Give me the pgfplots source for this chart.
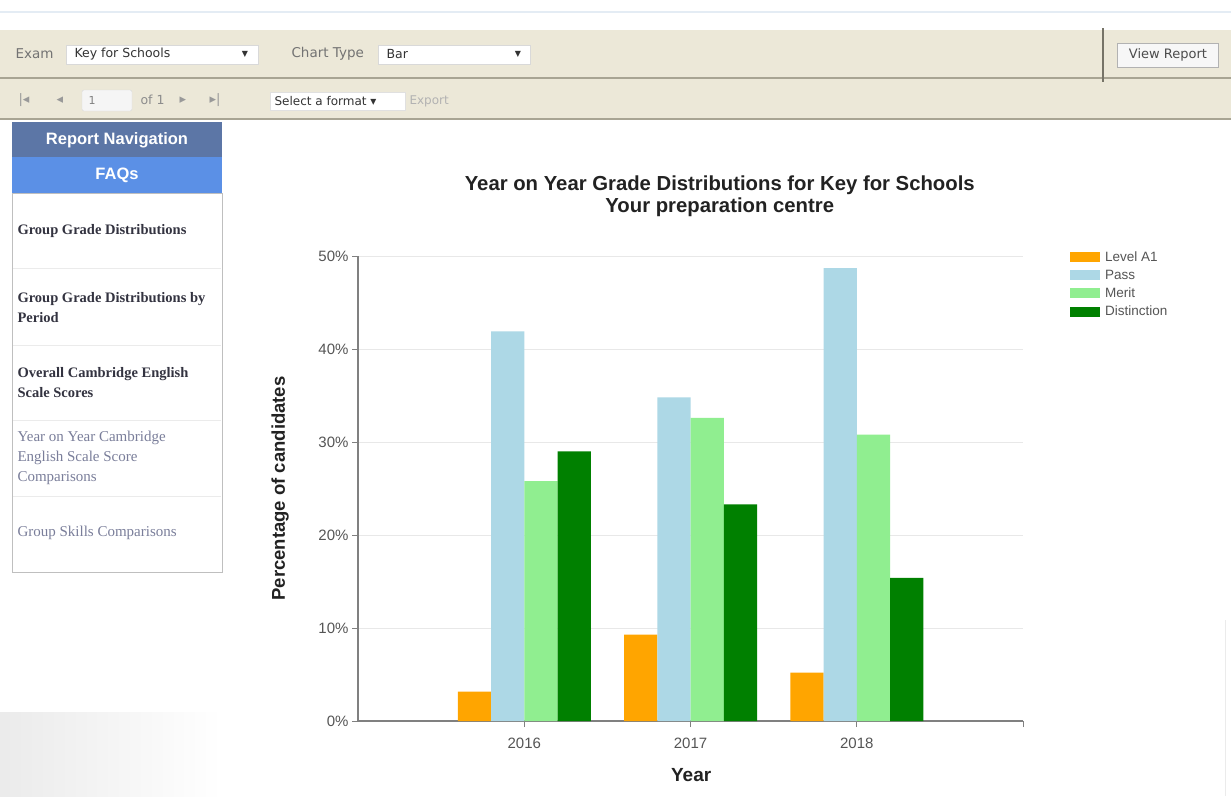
\documentclass[border=0pt]{standalone}
\usepackage{fontspec}
\setmainfont{Liberation Sans}
\newfontfamily\sideserif{Liberation Serif}
\newfontfamily\ui{DejaVu Sans}
\usepackage{pgfplots}
\pgfplotsset{compat=1.18}
\definecolor{beige}{HTML}{ECE8D8}
\definecolor{tbline}{HTML}{A8A493}
\definecolor{navdark}{HTML}{5C76A6}
\definecolor{navblue}{HTML}{5B90E6}
\definecolor{barA}{HTML}{FFA500}
\definecolor{barP}{HTML}{ADD8E6}
\definecolor{barM}{HTML}{90EE90}
\definecolor{barD}{HTML}{008000}
\definecolor{axisgray}{HTML}{808080}
\definecolor{gridgray}{HTML}{E8E8E8}
\definecolor{txtgray}{HTML}{555555}
\definecolor{titlecol}{HTML}{222222}
\definecolor{sidetxt}{HTML}{333340}
\definecolor{sidelight}{HTML}{7A7E9A}
\definecolor{topline}{HTML}{E4ECF4}
\pgfplotsset{mybar/.style={ybar, bar width=0.2, bar shift=0pt, draw=none, fill=#1,
  legend image code/.code={\fill[#1] (0pt,-5pt) rectangle (30pt,5pt); \path (33pt,0pt);}}}
\begin{document}
\begin{tikzpicture}[x=1pt,y=-1pt]
\useasboundingbox (0,0) rectangle (1231,796);
\fill[white] (0,0) rectangle (1231,796);
\shade[left color=black!8, right color=white] (0,712) rectangle (222,796);
\draw[black!8, line width=1pt] (1225,620) -- (1225,796);
% top line
\draw[topline, line width=2pt] (0,12) -- (1231,12);
% toolbar
\fill[beige] (0,30) rectangle (1231,119);
\draw[tbline, line width=2pt] (0,78) -- (1231,78);
\draw[tbline, line width=2pt] (0,119) -- (1231,119);
\draw[tbline!70!black, line width=1.2pt] (1103,28) -- (1103,82);
% row 1
\node[anchor=west, font=\ui\fontsize{13.5}{15}\selectfont, text=black!55] at (12,54) {Exam};
\draw[black!15, fill=white] (66,45) rectangle (258,64);
\node[anchor=west, font=\ui\fontsize{12.5}{14}\selectfont, text=black!80] at (71,54.5) {Key for Schools};
\node[font=\ui\fontsize{8}{9}\selectfont, text=black!80] at (245,54.5) {▼};
\node[anchor=west, font=\ui\fontsize{13.5}{15}\selectfont, text=black!55] at (288,54) {Chart Type};
\draw[black!15, fill=white] (378,45) rectangle (530,64);
\node[anchor=west, font=\ui\fontsize{12.5}{14}\selectfont, text=black!80] at (383,54.5) {Bar};
\node[font=\ui\fontsize{8}{9}\selectfont, text=black!80] at (518,54.5) {▼};
\draw[black!30, fill=black!3] (1117,43) rectangle (1218,67);
\node[font=\ui\fontsize{13}{14}\selectfont, text=black!70] at (1168,55) {View Report};
% row 2
\node[anchor=west, font=\ui\fontsize{13}{14}\selectfont, text=black!40] at (15,100) {|◂};
\node[anchor=west, font=\ui\fontsize{13}{14}\selectfont, text=black!40] at (53,100) {◂};
\draw[black!15, fill=black!4, rounded corners=2pt] (82,90) rectangle (132,111);
\node[anchor=west, font=\ui\fontsize{11}{12}\selectfont, text=black!50] at (85,100.5) {1};
\node[anchor=west, font=\ui\fontsize{12.5}{14}\selectfont, text=black!45] at (137,100) {of 1};
\node[anchor=west, font=\ui\fontsize{13}{14}\selectfont, text=black!40] at (176,100) {▸};
\node[anchor=west, font=\ui\fontsize{13}{14}\selectfont, text=black!40] at (206,100) {▸|};
\draw[black!12, fill=white] (270,92) rectangle (405,110);
\node[anchor=west, font=\ui\fontsize{12}{13}\selectfont, text=black!80] at (271,101) {Select a format ▾};
\node[anchor=west, font=\ui\fontsize{12}{13}\selectfont, text=black!30] at (406,101) {Export};
% sidebar
\fill[navdark] (12,122) rectangle (222,157);
\fill[navblue] (12,157) rectangle (222,193);
\node[font=\bfseries\fontsize{16.5}{18}\selectfont, text=white] at (117,140) {Report Navigation};
\node[font=\bfseries\fontsize{16.5}{18}\selectfont, text=white] at (117,175.5) {FAQs};
\draw[black!25, line width=1pt] (12,193) rectangle (222,572);
\foreach \yy in {268,345,420,496} \draw[black!8, line width=1pt] (13,\yy) -- (221,\yy);
\node[anchor=west, align=left, font=\sideserif\bfseries\fontsize{14.5}{20}\selectfont, text=sidetxt] at (14,231) {Group Grade Distributions};
\node[anchor=west, align=left, font=\sideserif\bfseries\fontsize{14.5}{20}\selectfont, text=sidetxt] at (14,308) {Group Grade Distributions by\\Period};
\node[anchor=west, align=left, font=\sideserif\bfseries\fontsize{14.5}{20}\selectfont, text=sidetxt] at (14,383) {Overall Cambridge English\\Scale Scores};
\node[anchor=west, align=left, font=\sideserif\fontsize{15}{20}\selectfont, text=sidelight] at (14,458) {Year on Year Cambridge\\English Scale Score\\Comparisons};
\node[anchor=west, align=left, font=\sideserif\fontsize{15}{20}\selectfont, text=sidelight] at (14,533) {Group Skills Comparisons};
% chart
\begin{axis}[
  at={(358pt,-721pt)}, anchor=south west,
  scale only axis, width=665pt, height=465pt,
  xmin=-1, xmax=3, ymin=0, ymax=50,
  axis lines=left, axis line style={-, draw=axisgray, line width=1.2pt},
  xtick={0,1,2}, xticklabels={2016,2017,2018},
  extra x ticks={3}, extra x tick labels={}, extra x tick style={grid=none},
  ytick={0,10,20,30,40,50}, yticklabels={0\%,10\%,20\%,30\%,40\%,50\%},
  tick align=outside, major tick length=6pt,
  tick style={draw=axisgray, line width=1pt},
  ymajorgrids, grid style={draw=gridgray, line width=0.8pt},
  ticklabel style={font=\fontsize{15}{17}\selectfont, text=txtgray},
  xticklabel style={yshift=-7pt},
  title={Year on Year Grade Distributions for Key for Schools\\Your preparation centre},
  title style={at={(axis description cs:0.544,1.116)}, anchor=center, align=center,
    font=\bfseries\fontsize{20.3}{22}\selectfont, text=titlecol},
  xlabel={Year},
  xlabel style={at={(axis description cs:0.501,-0.116)}, anchor=center,
    font=\bfseries\fontsize{19}{20}\selectfont, text=titlecol},
  ylabel={Percentage of candidates},
  ylabel style={at={(axis description cs:-0.117,0.5)}, anchor=center,
    font=\bfseries\fontsize{18.5}{20}\selectfont, text=titlecol},
  legend style={at={(axis description cs:1.0707,1.014)}, anchor=north west,
    draw=none, fill=none, inner sep=0pt, row sep=3pt,
    font=\fontsize{13.5}{15}\selectfont, text=txtgray},
  legend cell align=left,
]
\addplot[mybar=barA] coordinates {(-0.3,3.15) (0.7,9.3) (1.7,5.2)};
\addplot[mybar=barP] coordinates {(-0.1,41.9) (0.9,34.8) (1.9,48.7)};
\addplot[mybar=barM] coordinates {(0.1,25.8) (1.1,32.6) (2.1,30.8)};
\addplot[mybar=barD] coordinates {(0.3,29.0) (1.3,23.3) (2.3,15.4)};
\legend{Level A1,Pass,Merit,Distinction}
\end{axis}
\end{tikzpicture}
\end{document}
